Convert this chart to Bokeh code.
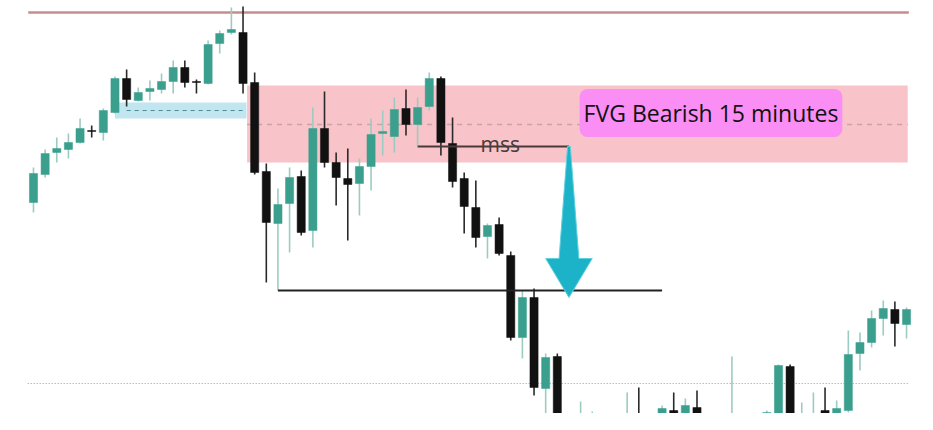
from bokeh.plotting import figure
from bokeh.models import ColumnDataSource, Label, Range1d
from bokeh.embed import file_html
from bokeh.resources import INLINE

# ---- data (price units) ----
opens  = [298, 326, 348, 351, 358, 370, 368, 388, 422, 400,
          409, 411, 419, 433, 419, 417, 457, 468, 468, 418,
          329, 277, 297, 324, 270, 372, 338, 322, 317, 334,
          367, 364, 392, 376, 394, 422, 357, 322, 293, 264,
          276, 245, 163, 203, 112, 144, 60, 45, 60, 80,
          60, 70, 82, 70, 82, 90, 82, 93, 80, 84,
          76, 84, 80, 84, 84, 134, 80, 84, 90, 84,
          90, 147, 158, 182, 191, 176]
highs  = [333, 351, 363, 367, 382, 375, 392, 424, 431, 413,
          420, 427, 440, 440, 421, 460, 470, 493, 494, 428,
          337, 312, 333, 330, 393, 409, 348, 352, 342, 382,
          390, 403, 411, 403, 428, 424, 383, 328, 320, 277,
          283, 249, 210, 212, 147, 147, 80, 99, 89, 85,
          84, 108, 113, 84, 95, 108, 102, 110, 86, 86,
          144, 86, 86, 90, 136, 136, 98, 108, 113, 100,
          170, 168, 190, 200, 199, 193]
lows   = [288, 323, 338, 342, 357, 363, 360, 387, 394, 399,
          400, 407, 407, 413, 407, 416, 447, 466, 407, 326,
          218, 210, 248, 265, 253, 333, 295, 260, 285, 310,
          345, 348, 365, 354, 390, 345, 313, 267, 253, 242,
          245, 160, 142, 105, 80, 50, 30, 35, 50, 55,
          50, 62, 60, 60, 75, 74, 78, 76, 70, 72,
          70, 74, 76, 78, 80, 78, 74, 76, 76, 80,
          88, 130, 153, 165, 154, 162]
closes = [327, 347, 352, 358, 372, 369, 390, 422, 401, 408,
          412, 419, 433, 418, 418, 456, 467, 471, 417, 328,
          278, 296, 323, 268, 372, 338, 323, 316, 334, 366,
          369, 391, 376, 393, 422, 358, 319, 294, 263, 275,
          247, 163, 203, 113, 143, 60, 40, 70, 80, 60,
          75, 82, 70, 78, 92, 80, 95, 80, 84, 78,
          84, 80, 84, 88, 135, 82, 86, 86, 82, 92,
          146, 158, 182, 192, 177, 191]
index = list(range(len(opens)))

fvg_x = [18.35, 75.1]          # bearish FVG zone (start, end index)
fvg_y = [338, 415, 376]        # bottom, top, mid
ob_x = [7, 18.3]               # small blue zone
ob_y = [382, 398, 390]         # bottom, top, mid
high_level = [-0.45, 75.2, 488]   # x0, x1, price
low_dotted = [-0.5, 75.2, 117]
mss = [33, 46, 354]            # x0, x1, price
target = [21, 54, 210]         # x0, x1, price
arrow_x = 46
arrow_levels = [354, 242, 203]  # top, head base, tip
label_text = "FVG Bearish 15 minutes"
label_pos = [58.2, 387.5]
mss_text_pos = [40.1, 357]

TEAL = "#3b9f8e"
TEAL_WICK = "#9ccbc1"
BLACK = "#111111"

bull = [c >= o for o, c in zip(opens, closes)]
src = ColumnDataSource(dict(
    x=index,
    top=[max(o, c) if abs(o - c) >= 1 else max(o, c) + 0.6 for o, c in zip(opens, closes)],
    bottom=[min(o, c) for o, c in zip(opens, closes)],
    high=highs, low=lows,
    fill=[TEAL if b else BLACK for b in bull],
    wick=[TEAL_WICK if b else "#2a2a2a" for b in bull],
))

p = figure(width=925, height=413, output_backend="svg", toolbar_location=None,
           x_range=Range1d(-2.835, 76.63), y_range=Range1d(87, 500),
           min_border=0, outline_line_color=None)
p.axis.visible = False
p.grid.visible = False
p.background_fill_color = "white"

# zones
p.quad(left=[fvg_x[0]], right=[fvg_x[1]], bottom=[fvg_y[0]], top=[fvg_y[1]],
       fill_color="#f8c3c9", line_color=None)
p.segment(x0=[fvg_x[0]], x1=[fvg_x[1]], y0=[fvg_y[2]], y1=[fvg_y[2]],
          line_color="#c9a2a6", line_dash="5 5", line_width=1.5)
p.quad(left=[ob_x[0]], right=[ob_x[1]], bottom=[ob_y[0]], top=[ob_y[1]],
       fill_color="#c2e6ef", line_color=None)
p.segment(x0=[ob_x[0] + 1], x1=[ob_x[1]], y0=[ob_y[2]], y1=[ob_y[2]],
          line_color="#4d8a94", line_dash="4 4", line_width=1.2)

# horizontal levels
p.segment(x0=[high_level[0]], x1=[high_level[1]], y0=[high_level[2]], y1=[high_level[2]],
          line_color="#c98c8c", line_width=2.5)
p.segment(x0=[low_dotted[0]], x1=[low_dotted[1]], y0=[low_dotted[2]], y1=[low_dotted[2]],
          line_color="#9a9a9a", line_dash="1 2", line_width=1)

# candles
p.segment(x0="x", x1="x", y0="low", y1="high", line_color="wick", line_width=1.6, source=src)
p.vbar(x="x", width=0.7, top="top", bottom="bottom", fill_color="fill",
       line_color="fill", line_width=0.5, source=src)

# mss and target lines
p.segment(x0=[mss[0]], x1=[mss[1]], y0=[mss[2]], y1=[mss[2]],
          line_color="#4a3a3a", line_width=2)
p.segment(x0=[target[0]], x1=[target[1]], y0=[target[2]], y1=[target[2]],
          line_color="#222222", line_width=2)

# arrow
t, b, tip = arrow_levels
ax = [arrow_x - 0.12, arrow_x + 0.12, arrow_x + 0.85, arrow_x + 2.0,
      arrow_x, arrow_x - 2.0, arrow_x - 0.85]
ay = [t, t, b, b, tip, b, b]
p.patch(ax, ay, fill_color="#1cb3c9", line_color="#5fd0de", line_width=1)

# texts
p.add_layout(Label(x=mss_text_pos[0], y=mss_text_pos[1], text="mss",
                   text_font="Open Sans", text_font_size="21px", text_color="#4a3a3a",
                   text_align="center", text_baseline="alphabetic"))
p.add_layout(Label(x=label_pos[0], y=label_pos[1], text=label_text,
                   text_font="Open Sans", text_font_size="23px", text_color="#111111",
                   text_align="center", text_baseline="middle",
                   background_fill_color="#fa8ef4", background_fill_alpha=1.0,
                   border_radius=8, padding=(4, 8)))

open("out.html", "w").write(file_html(p, INLINE))
